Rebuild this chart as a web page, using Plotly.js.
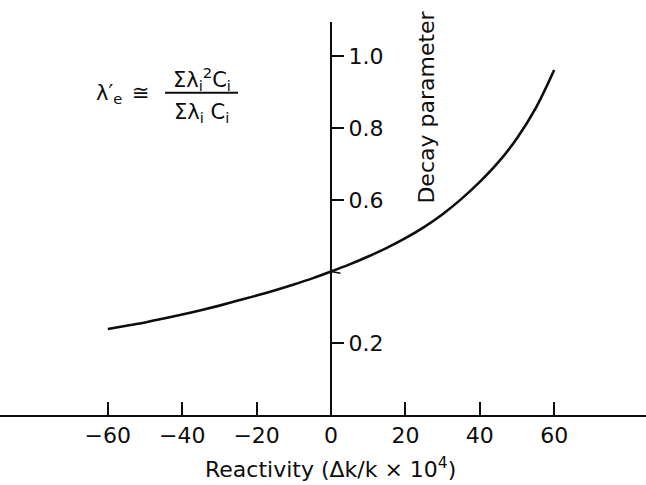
<!DOCTYPE html>
<html>
<head>
<meta charset="utf-8">
<script src="https://cdn.plot.ly/plotly-3.0.1.min.js"></script>
<style>
html,body{margin:0;padding:0;background:#fff;}
#chart{width:646px;height:485px;}
</style>
</head>
<body>
<div id="chart"></div>
<script>
// Data
const reactivity = [-60, -55, -50, -45, -40, -35, -30, -25, -20, -15, -10, -5, 0,
                    5, 10, 15, 20, 25, 30, 35, 40, 45, 50, 55, 60];
const decayParam = [0.240, 0.249, 0.258, 0.269, 0.280, 0.292, 0.305, 0.319, 0.333, 0.348, 0.364, 0.381, 0.400,
                    0.420, 0.442, 0.466, 0.493, 0.524, 0.560, 0.602, 0.650, 0.705, 0.772, 0.855, 0.962];
const xTickVals = [-60, -40, -20, 0, 20, 40, 60];
const xTickText = ['\u221260', '\u221240', '\u221220', '0', '20', '40', '60'];
const yTickVals = [0.2, 0.6, 0.8, 1.0];
const yTickText = ['0.2', '0.6', '0.8', '1.0'];

const xRange = [-88.98, 84.68];
const yRange = [0, 1.096];
const yAxisPos = (0 - xRange[0]) / (xRange[1] - xRange[0]);

const FONT = 'DejaVu Sans, Liberation Sans, Arial, sans-serif';
const INK = '#0d0d0d';

const trace = {
  x: reactivity,
  y: decayParam,
  type: 'scatter',
  mode: 'lines',
  line: {color: INK, width: 2.6, shape: 'spline', smoothing: 1},
  hoverinfo: 'skip'
};

const layout = {
  width: 646,
  height: 485,
  margin: {l: 0, r: 0, t: 22, b: 70, pad: 0},
  paper_bgcolor: '#fff',
  plot_bgcolor: '#fff',
  showlegend: false,
  font: {family: FONT, color: INK, size: 22},
  xaxis: {
    range: xRange,
    tickvals: xTickVals,
    ticktext: xTickText,
    ticks: 'inside',
    ticklen: 13,
    tickwidth: 2,
    tickcolor: INK,
    showline: true,
    linecolor: INK,
    linewidth: 2,
    showgrid: false,
    zeroline: false,
    ticklabelstandoff: 0,
    tickfont: {family: FONT, size: 22, color: INK},
    fixedrange: true
  },
  yaxis: {
    range: yRange,
    anchor: 'free',
    position: yAxisPos,
    side: 'right',
    tickvals: yTickVals,
    ticktext: yTickText,
    ticks: 'outside',
    ticklen: 12,
    tickwidth: 2,
    tickcolor: INK,
    showline: true,
    linecolor: INK,
    linewidth: 2,
    showgrid: false,
    zeroline: false,
    tickfont: {family: FONT, size: 22, color: INK},
    fixedrange: true
  },
  annotations: [
    {
      text: 'Decay parameter', textangle: -90,
      x: 25.8, y: 0.86, xref: 'x', yref: 'y',
      xanchor: 'center', yanchor: 'middle', showarrow: false,
      font: {family: FONT, size: 22, color: INK}
    },
    {
      text: 'Reactivity (\u0394k/k \u00d7 10<sup>4</sup>)',
      x: 0.511, y: -0.134, xref: 'paper', yref: 'paper',
      xanchor: 'center', yanchor: 'middle', showarrow: false,
      font: {family: FONT, size: 22, color: INK}
    },
    {
      text: '\u03bb\u2032<sub>e</sub>',
      x: -59.6, y: 0.896, xref: 'x', yref: 'y',
      xanchor: 'center', yanchor: 'middle', showarrow: false,
      font: {family: FONT, size: 21, color: INK}
    },
    {
      text: '\u2245',
      x: -51.0, y: 0.898, xref: 'x', yref: 'y',
      xanchor: 'center', yanchor: 'middle', showarrow: false,
      font: {family: FONT, size: 21, color: INK}
    },
    {
      text: '\u03a3\u03bb<sub>i</sub><sup>2</sup>C<sub>i</sub>',
      x: -34.8, y: 0.936, xref: 'x', yref: 'y',
      xanchor: 'center', yanchor: 'middle', showarrow: false,
      font: {family: FONT, size: 21, color: INK}
    },
    {
      text: '\u03a3\u03bb<sub>i</sub> C<sub>i</sub>',
      x: -34.8, y: 0.842, xref: 'x', yref: 'y',
      xanchor: 'center', yanchor: 'middle', showarrow: false,
      font: {family: FONT, size: 21, color: INK}
    },
    {
      text: '', x: 0, y: 0.40, xref: 'x', yref: 'y',
      showarrow: true, arrowhead: 0, arrowwidth: 1.6, arrowcolor: INK,
      ax: 11, ay: 2
    }
  ],
  shapes: [
    {
      type: 'line', xref: 'x', yref: 'y',
      x0: -44.6, x1: -25.0, y0: 0.899, y1: 0.899,
      line: {color: INK, width: 2}
    }
  ]
};

Plotly.newPlot('chart', [trace], layout, {staticPlot: true, displayModeBar: false});
</script>
</body>
</html>
